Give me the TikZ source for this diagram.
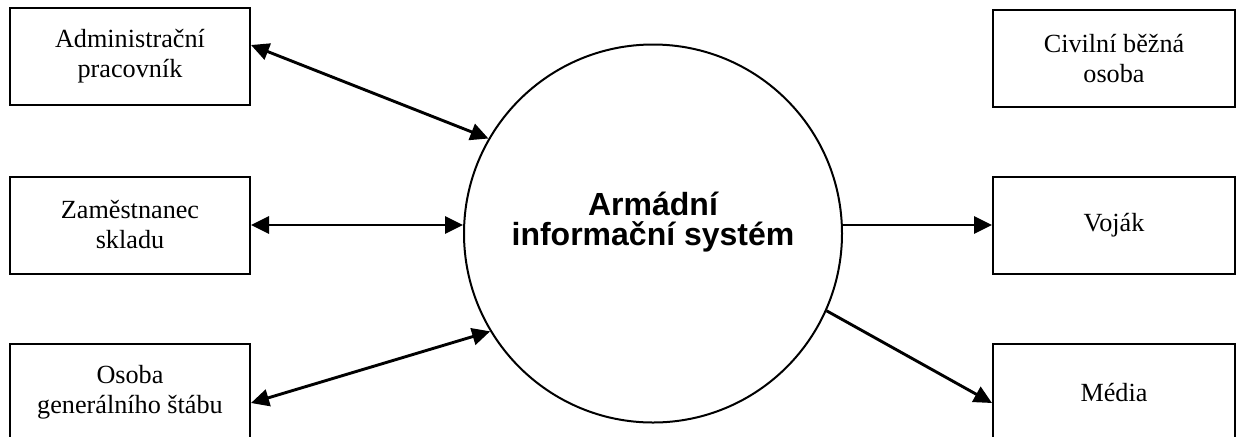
\documentclass[tikz,border=0pt]{standalone}
\usepackage{fontspec}
\setmainfont{Liberation Serif}
\newfontfamily\headfont{Liberation Sans}
\usetikzlibrary{arrows.meta}
\begin{document}
\begin{tikzpicture}[x=0.5pt,y=-0.5pt,
  actor/.style={draw,line width=1pt,minimum height=48.5pt,inner sep=0pt,
    align=center,font=\fontsize{13.1}{15}\selectfont},
  leftactor/.style={actor,minimum width=120pt},
  rightactor/.style={actor,minimum width=121pt},
  system/.style={draw,circle,line width=1pt,minimum size=189pt,inner sep=0pt},
  systext/.style={align=center,inner sep=0pt,
    font=\headfont\bfseries\fontsize{16}{15}\selectfont},
  flow/.style={line width=1.45pt,-{Triangle[length=9pt,width=8.5pt]}},
  dual/.style={line width=1.45pt,{Triangle[length=9pt,width=8.5pt]}-{Triangle[length=9pt,width=8.5pt]}}]
\useasboundingbox (0,0) rectangle (1237,436);

% central system
\node[system] (ais) at (653,233.5) {};
\node[systext] (aistext) at ([yshift=5.75pt]ais.center) {Armádní\\informační systém};

% actors on the left
\node[leftactor] (adm) at (130,56.5) {Administrační\\pracovník};
\node[leftactor] (skl) at (130,225) {Zaměstnanec\\skladu};
\node[leftactor] (gen) at (130,392.5) {Osoba\\generálního štábu};

% actors on the right
\node[rightactor] (civ) at (1114,58.5) {Civilní běžná\\osoba};
\node[rightactor] (voj) at (1114,225) {Voják};
\node[rightactor] (med) at (1114,392.5) {Média};

% data flows
\draw[dual] ([yshift=5.75pt]adm.east) -- (ais.150);
\draw[dual] (skl.east) -- (skl.east -| ais.west);
\draw[dual] ([yshift=-5.25pt]gen.east) -- (ais.211);
\draw[flow] (voj.west -| ais.east) -- (voj.west);
\draw[flow] (ais.336) -- ([yshift=-5.25pt]med.west);
\end{tikzpicture}
\end{document}
